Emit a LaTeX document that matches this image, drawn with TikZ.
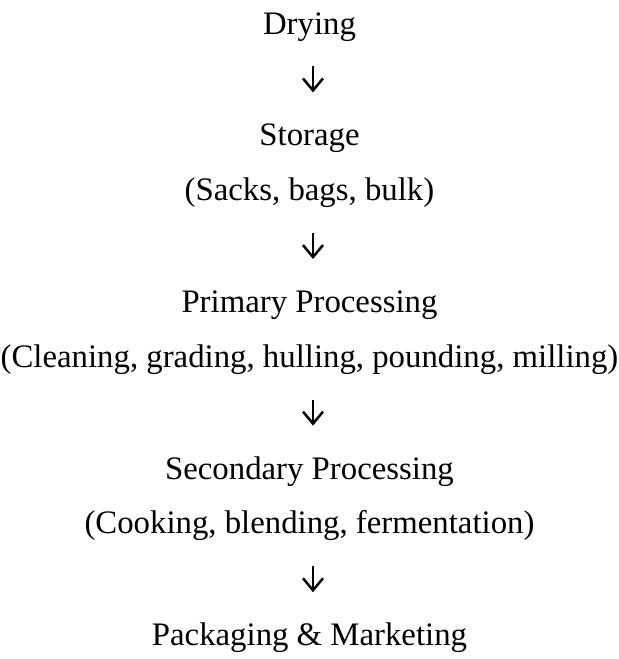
\documentclass[tikz,border=0pt]{standalone}
\usepackage{fontspec}
\setmainfont{Liberation Serif}
\usetikzlibrary{arrows.meta,positioning}

\begin{document}
\begin{tikzpicture}[node distance=12pt, every node/.style={font=\fontsize{16.4}{19}\selectfont},
  stage/.style={inner sep=0pt, text height=11.5pt, text depth=3.5pt, align=center},
  flow/.style={line width=1.25pt, -{Straight Barb[length=6pt,width=10pt]}, shorten <=12.5pt, shorten >=15pt}]
\useasboundingbox (-154.75pt,0) rectangle (154.75pt,-329.5pt);
\node[stage, anchor=base] (dry) at (0,-17pt) {Drying};
\node[stage, below=40.5pt of dry] (sto) {Storage};
\node[stage, below=of sto] (stonote) {(Sacks, bags, bulk)};
\node[stage, below=40.5pt of stonote] (pri) {Primary Processing};
\node[stage, below=of pri] (prinote) {(Cleaning, grading, hulling, pounding, milling)};
\node[stage, below=40.5pt of prinote] (sec) {Secondary Processing};
\node[stage, below=of sec] (secnote) {(Cooking, blending, fermentation)};
\node[stage, below=40.5pt of secnote] (pack) {Packaging \& Marketing};
\draw[flow] ([xshift=1.75pt]dry.south)--([xshift=1.75pt]sto.north);
\draw[flow] ([xshift=1.75pt]stonote.south)--([xshift=1.75pt]pri.north);
\draw[flow] ([xshift=1.75pt]prinote.south)--([xshift=1.75pt]sec.north);
\draw[flow] ([xshift=1.75pt]secnote.south)--([xshift=1.75pt]pack.north);
\end{tikzpicture}
\end{document}
